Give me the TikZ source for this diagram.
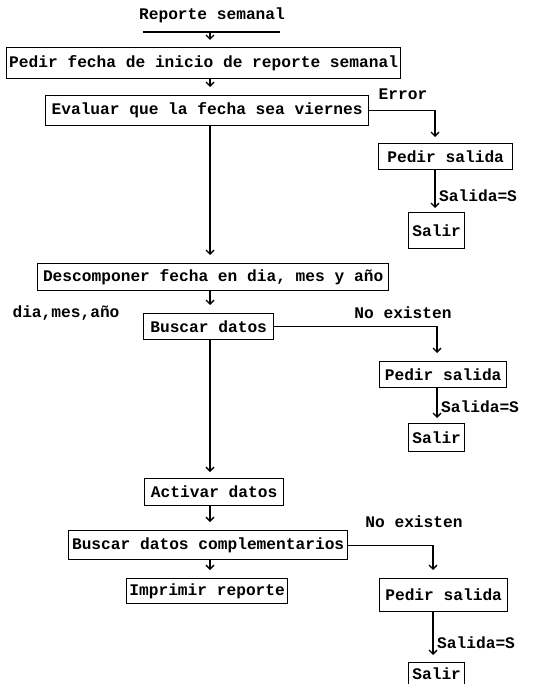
\documentclass[tikz,border=0pt]{standalone}
\usepackage{fontspec}
\newfontfamily\chartfont{Liberation Mono}
\usetikzlibrary{arrows.meta}
\begin{document}
\begin{tikzpicture}[x=1pt,y=-1pt,
  every node/.style={font=\chartfont\bfseries\fontsize{16.2}{18}\selectfont, inner sep=0pt},
  box/.style={draw, line width=1.3pt, anchor=north west},
  flow/.style={line width=1.3pt, -{Straight Barb[length=4pt,width=8pt]}},
  plain/.style={line width=1.3pt}]
\useasboundingbox (0,0) rectangle (557,684);

% column positions for the vertical connectors
\coordinate (cm) at (210,0);
\coordinate (cr1) at (435,0);
\coordinate (cr2) at (437,0);
\coordinate (cr3) at (433,0);

% heading with its underline
\node (t0) at (212,15) {Reporte semanal};
\coordinate (ulL) at (143,32);
\coordinate (ulR) at (280,32);
\coordinate (ulM) at (210,32);
\draw[plain] (ulL) -- (ulR);

% main sequence
\node[box, minimum width=394pt, minimum height=31pt] (b1) at (6,47) {Pedir fecha de inicio de reporte semanal};
\node[box, minimum width=323pt, minimum height=30pt] (b2) at (45,95) {Evaluar que la fecha sea viernes};
\node[box, minimum width=351pt, minimum height=27pt] (b3) at (37,263) {Descomponer fecha en dia, mes y año};
\node[box, minimum width=130pt, minimum height=26pt] (b4) at (143,313) {Buscar datos};
\node[box, minimum width=139pt, minimum height=27pt] (b5) at (144,478) {Activar datos};
\node[box, minimum width=279pt, minimum height=29pt] (b6) at (68,530) {Buscar datos complementarios};
\node[box, minimum width=161pt, minimum height=25pt] (b7) at (126,578) {Imprimir reporte};

% exit branches
\node[box, minimum width=134pt, minimum height=26pt] (ps1) at (378,143) {Pedir salida};
\node[box, minimum width=56pt, minimum height=36pt] (sx1) at (408,212) {Salir};
\node[box, minimum width=127pt, minimum height=26pt] (ps2) at (379,361) {Pedir salida};
\node[box, minimum width=56pt, minimum height=28pt] (sx2) at (408,423) {Salir};
\node[box, minimum width=128pt, minimum height=33pt] (ps3) at (379,578) {Pedir salida};
\node[box, minimum width=56pt, minimum height=22pt] (sx3) at (408,662) {Salir};

% labels
\node (err) at (403,94) {Error};
\node[anchor=west] (so1) at (439,196) {Salida=S};
\node (dma) at (66,313) {dia,mes,año};
\node (ne1) at (403,313) {No existen};
\node[anchor=west] (so2) at (441,407) {Salida=S};
\node (ne2) at (414,522) {No existen};
\node[anchor=west] (so3) at (437,643) {Salida=S};

% main connectors
\draw[flow, shorten >=7pt] (ulM) -- (b1.north -| cm);
\draw[flow, shorten >=8pt] (b1.south -| cm) -- (b2.north -| cm);
\draw[flow, shorten >=8pt] (b2.south -| cm) -- (b3.north -| cm);
\draw[flow, shorten >=8pt] (b3.south -| cm) -- (b4.north -| cm);
\draw[flow, shorten >=6pt] (b4.south -| cm) -- (b5.north -| cm);
\draw[flow, shorten >=8pt] (b5.south -| cm) -- (b6.north -| cm);
\draw[flow, shorten >=8pt] (b6.south -| cm) -- (b7.north -| cm);

% branch connectors
\draw[flow, shorten >=6pt] (b2.east) -| (ps1.north -| cr1);
\draw[flow, shorten >=4pt] (ps1.south -| cr1) -- (sx1.north -| cr1);
\draw[flow, shorten >=8pt] (b4.east) -| (ps2.north -| cr2);
\draw[flow, shorten >=5pt] (ps2.south -| cr2) -- (sx2.north -| cr2);
\draw[flow, shorten >=8pt] (b6.east) -| (ps3.north -| cr3);
\draw[flow, shorten >=7pt] (ps3.south -| cr3) -- (sx3.north -| cr3);
\end{tikzpicture}
\end{document}
